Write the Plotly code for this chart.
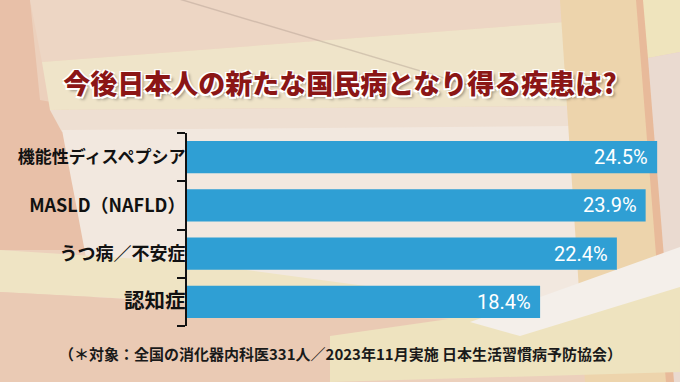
import plotly.graph_objects as go

# ---- data ----
categories = ["機能性ディスペプシア", "MASLD（NAFLD）", "うつ病／不安症", "認知症"]
values = [24.5, 23.9, 22.4, 18.4]
value_labels = [f"{v}%" for v in values]
title_text = "今後日本人の新たな国民病となり得る疾患は?"
note_text = "（＊対象：全国の消化器内科医331人／2023年11月実施 日本生活習慣病予防協会）"

# ---- styling ----
label_font_px = [17, 18, 18, 20.5]
tick_text = [f'<span style="font-size:{s}px">{c}</span>'
             for c, s in zip(categories, label_font_px)]

# ---- geometry of the plot area (px) ----
W_FIG, H_FIG = 680, 382
ML, MR, MT, MB = 187, 12, 133, 56
PW = W_FIG - ML - MR
PH = H_FIG - MT - MB
PB = H_FIG - MB


def poly(pts):
    return "M " + " L ".join(
        f"{(x - ML) / PW:.4f},{(PB - y) / PH:.4f}" for x, y in pts) + " Z"


bg_polys = [
    # left salmon region
    ([(0, 0), (30, 0), (40, 100), (68, 105), (92, 250), (0, 250)], "#E8C0A8"),
    # upper peach
    ([(30, 0), (565, 0), (565, 22), (42, 62)], "#EDD6C4"),
    # title band (pale yellow)
    ([(42, 62), (565, 22), (570, 106), (50, 110)], "#EFE4C9"),
    # soft transition under title band
    ([(50, 110), (570, 106), (570, 128), (62, 132)], "#EEDFD2"),
    # cream panel behind labels / bars
    ([(62, 130), (570, 126), (585, 300), (94, 300)], "#F2E8DF"),
    # tan vertical strip right
    ([(560, 0), (640, 0), (668, 382), (585, 382)], "#EDD4AC"),
    # salmon vertical line
    ([(636, 0), (645, 0), (675, 382), (666, 382)], "#E8BA9A"),
    # top right yellow
    ([(643, 0), (680, 0), (680, 52), (648, 58)], "#EFE4BD"),
    # right edge greyish pink
    ([(648, 58), (680, 52), (680, 382), (674, 382)], "#EADAD0"),
    # lower-left yellow band
    ([(0, 250), (187, 262), (470, 300), (470, 320), (187, 302), (0, 292)], "#EFE4C4"),
    # bottom-left peach
    ([(0, 292), (187, 302), (470, 322), (330, 382), (0, 382)], "#EACAB4"),
    # lower-right yellow band
    ([(330, 336), (680, 286), (680, 372), (330, 382)], "#EEE3BF"),
    # white diagonal band lower right
    ([(470, 322), (680, 247), (680, 287), (520, 336)], "#F4EFEA"),
]

shapes = [
    dict(type="path", path=poly(p), xref="paper", yref="paper",
         fillcolor=c, line=dict(width=0), layer="below")
    for p, c in bg_polys
]
# faint diagonal streak at top
shapes.append(dict(type="path", path=poly([(180, 0), (185, 0), (480, 88), (475, 88)]),
                   xref="paper", yref="paper", fillcolor="rgba(160,140,130,0.35)",
                   line=dict(width=0), layer="below"))

fig = go.Figure()
fig.add_trace(go.Bar(
    x=values, y=categories, orientation="h",
    marker=dict(color="#2F9FD4", line=dict(width=0)),
    hoverinfo="skip",
))

for cat, v, lab in zip(categories, values, value_labels):
    fig.add_annotation(
        x=v, y=cat, xref="x", yref="y", text=lab, showarrow=False,
        xanchor="right", yanchor="middle", xshift=-7,
        font=dict(family="Roboto", size=20, color="white"),
    )

fig.add_annotation(
    x=(340 - ML) / PW, y=(PB - 353) / PH, xref="paper", yref="paper",
    text=note_text, showarrow=False, xanchor="center", yanchor="middle",
    font=dict(family="Noto Sans CJK JP", size=15, color="#1a1a1a", weight="bold"),
)

fig.update_layout(
    width=W_FIG, height=H_FIG,
    margin=dict(l=ML, r=MR, t=MT, b=MB, pad=0),
    paper_bgcolor="#ECD0BC",
    plot_bgcolor="rgba(0,0,0,0)",
    bargap=0.33,
    showlegend=False,
    shapes=shapes,
    title=dict(
        text=title_text, x=340 / W_FIG, xanchor="center",
        y=1 - 85 / H_FIG, yanchor="middle", xref="container", yref="container",
        font=dict(family="Noto Sans CJK JP", size=27, color="#8B1616", weight=900,
                  shadow="-1.5px -1.5px 0 #fff, 1.5px -1.5px 0 #fff, -1.5px 1.5px 0 #fff, "
                         "1.5px 1.5px 0 #fff, 3px 3px 3px rgba(0,0,0,0.35)"),
    ),
    xaxis=dict(range=[0, PW / 19.19], visible=False, fixedrange=True),
    yaxis=dict(
        categoryorder="array", categoryarray=categories, autorange="reversed",
        tickmode="array", tickvals=categories, ticktext=tick_text,
        showline=True, linecolor="#111", linewidth=2,
        ticks="outside", tickson="boundaries", ticklen=8, tickwidth=2,
        tickcolor="#111", ticklabelstandoff=-4,
        showgrid=False, zeroline=False, fixedrange=True,
        tickfont=dict(family="Noto Sans CJK JP", size=18, color="#111", weight="bold"),
    ),
)

fig.write_html("out.html", config={"displayModeBar": False, "staticPlot": True},
               post_script="document.body.style.margin='0';document.body.style.overflow='hidden';")
